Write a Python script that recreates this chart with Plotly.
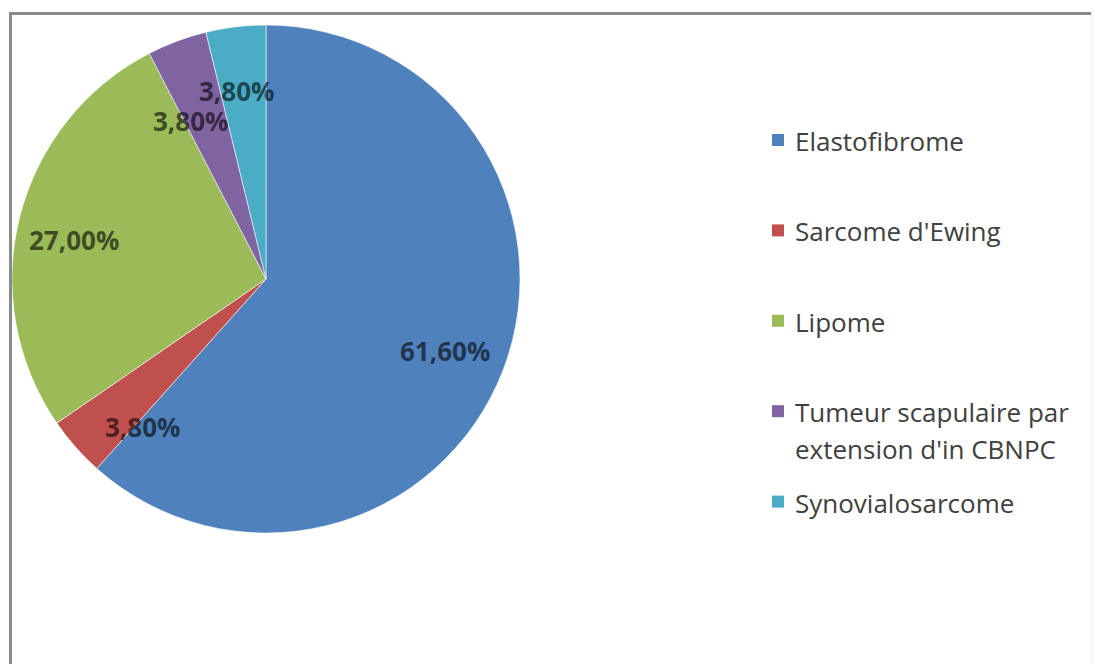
import math
import textwrap
import plotly.graph_objects as go

# Data
labels = ["Elastofibrome", "Sarcome d'Ewing", "Lipome",
          "Tumeur scapulaire par extension d'in CBNPC", "Synovialosarcome"]
values = [61.6, 3.8, 27.0, 3.8, 3.8]
colors = ["#4F81BD", "#C0504D", "#9BBB59", "#8064A2", "#4BACC6"]

W, H = 1095, 664

# Pie placement (pixels)
CX, CY, R = 266, 279, 254

# Label placement: fraction of radius and angular nudge (degrees) per slice
label_radius = [0.76, 0.76, 0.77, 0.69, 0.75]
label_shift = [0.9, -8.8, -2.5, -4.9, -2.1]


def px(x):
    return x / W


def py(y):
    return 1 - y / H


fig = go.Figure(go.Pie(
    labels=labels,
    values=values,
    sort=False,
    direction="clockwise",
    rotation=0,
    marker=dict(colors=colors, line=dict(color="rgba(255,255,255,0.55)", width=1)),
    textinfo="none",
    hoverinfo="label+percent",
    showlegend=False,
    domain=dict(x=[px(CX - R), px(CX + R)], y=[py(CY + R), py(CY - R)]),
))

annotations = []
shapes = []

# Percentage labels on the slices
total = sum(values)
cum = 0.0
for i, v in enumerate(values):
    mid = (cum + v / 2) / total * 360 + label_shift[i]
    cum += v
    r = label_radius[i] * R
    x = CX + r * math.sin(math.radians(mid))
    y = CY - r * math.cos(math.radians(mid))
    annotations.append(dict(
        x=px(x), y=py(y), xref="paper", yref="paper",
        text=f"{v:.2f}".replace(".", ",") + "%",
        showarrow=False, xanchor="center", yanchor="middle",
        font=dict(family="Open Sans", size=26, color="rgba(0,0,0,0.6)", weight="bold"),
    ))

# Legend drawn at the right
LEG_Y0, LEG_STEP, LINE_H = 140, 90.4, 37
MK_X0, MK_SIZE, TXT_X = 772, 12, 793
for i, lab in enumerate(labels):
    yc = LEG_Y0 + i * LEG_STEP
    shapes.append(dict(
        type="rect", xref="paper", yref="paper",
        x0=px(MK_X0), x1=px(MK_X0 + MK_SIZE),
        y0=py(yc + MK_SIZE / 2), y1=py(yc - MK_SIZE / 2),
        fillcolor=colors[i], line=dict(width=0),
    ))
    for j, line in enumerate(textwrap.wrap(lab, 22)):
        annotations.append(dict(
            x=px(TXT_X), y=py(yc + 1 + j * LINE_H), xref="paper", yref="paper",
            text=line, showarrow=False, xanchor="left", yanchor="middle",
            font=dict(family="Open Sans", size=26, color="#404040"),
        ))

# Chart frame (top and left edges)
shapes.append(dict(type="line", xref="paper", yref="paper",
                   x0=px(9), x1=px(1091), y0=py(13.5), y1=py(13.5),
                   line=dict(color="#8a8a8a", width=3)))
shapes.append(dict(type="line", xref="paper", yref="paper",
                   x0=px(10.5), x1=px(10.5), y0=py(12), y1=py(H),
                   line=dict(color="#8a8a8a", width=3)))
shapes.append(dict(type="line", xref="paper", yref="paper",
                   x0=px(1092), x1=px(1092), y0=py(12), y1=py(H),
                   line=dict(color="#ececec", width=1)))

fig.update_layout(
    width=W, height=H,
    margin=dict(l=0, r=0, t=0, b=0),
    paper_bgcolor="white", plot_bgcolor="white",
    annotations=annotations, shapes=shapes,
)

fig.write_html("out.html")
